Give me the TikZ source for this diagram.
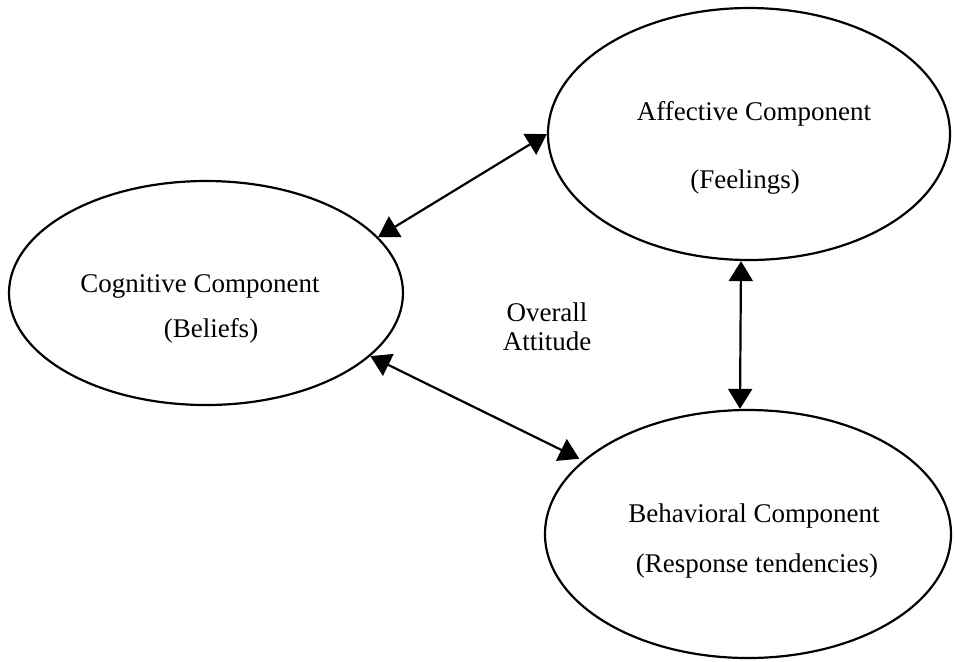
\documentclass[tikz,border=0pt]{standalone}
\usepackage{fontspec}
\setmainfont{Liberation Serif}
\usetikzlibrary{shapes.geometric,arrows.meta}
\begin{document}
\begin{tikzpicture}[x=0.5pt,y=-0.5pt,
  comp/.style={ellipse, draw, line width=1.1pt, inner sep=0pt},
  lbl/.style={font=\fontsize{13.5}{16}\selectfont, anchor=base, inner sep=0pt},
  link/.style={line width=1.1pt,
    {Triangle[length=10pt,width=12pt]}-{Triangle[length=10pt,width=12pt]}}]
\useasboundingbox (0,0) rectangle (955,661);

% the three components of an attitude
\node[comp, minimum width=197pt, minimum height=112pt] (cog) at (206,293) {};
\node[comp, minimum width=201pt, minimum height=126pt] (aff) at (749,134) {};
\node[comp, minimum width=203pt, minimum height=124pt] (beh) at (748,534) {};

% labels
\node[lbl] (cogA) at (200,292) {Cognitive Component};
\node[lbl] (cogB) at (211,337) {(Beliefs)};
\node[lbl] (affA) at (754,120) {Affective Component};
\node[lbl] (affB) at (745,188) {(Feelings)};
\node[lbl] (behA) at (754,522) {Behavioral Component};
\node[lbl] (behB) at (757,572) {(Response tendencies)};
\node[lbl, align=center, anchor=north] (overall) at (547,302)
  {Overall\\[-1.5pt]Attitude};

% mutual influences
\draw[link] (cog.18) -- (aff.west);
\draw[link, shorten >=2pt] (cog.-21) -- (beh.156);
\draw[link] ([xshift=-4pt]aff.south) -- ([xshift=-4pt]beh.north);
\end{tikzpicture}
\end{document}
